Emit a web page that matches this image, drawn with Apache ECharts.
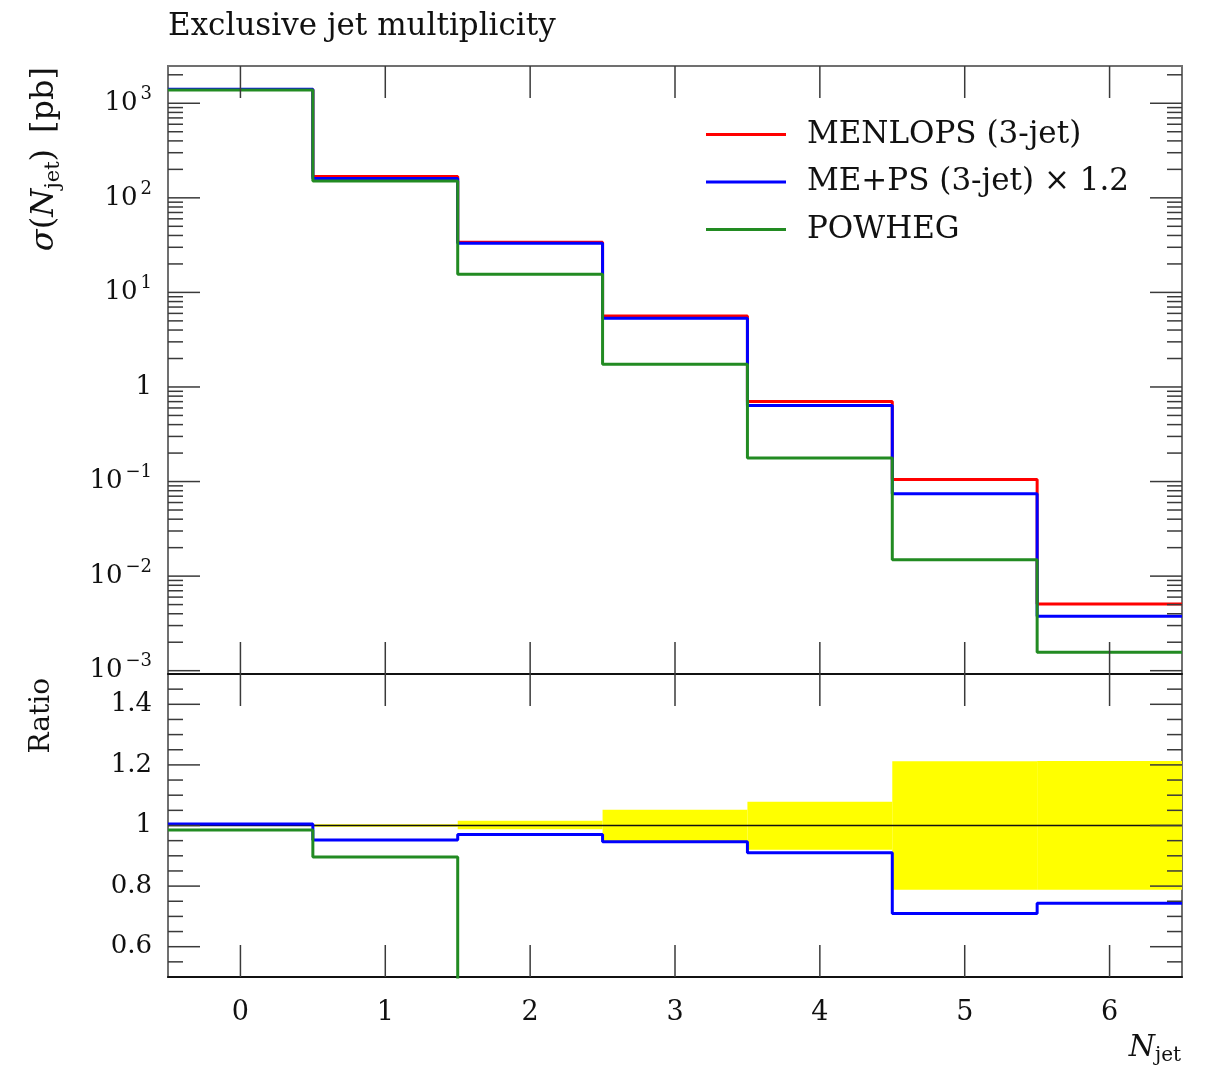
<!DOCTYPE html>
<html>
<head>
<meta charset="utf-8">
<title>Exclusive jet multiplicity</title>
<script src="https://cdn.jsdelivr.net/npm/echarts@6/dist/echarts.min.js"></script>
<style>
html, body {margin: 0; padding: 0; background: #fff;}
#main {width: 1212px; height: 1072px;}
</style>
</head>
<body>
<div id="main"></div>
<script>
// bins of N_jet
var binEdges = [-0.5, 0.5, 1.5, 2.5, 3.5, 4.5, 5.5, 6.5];
var nJet = [0, 1, 2, 3, 4, 5, 6];

// cross sections [pb]
var menlops = [1400, 168, 34.0, 5.63, 0.700, 0.105, 0.00507];
var mepsScaled = [1407, 160, 33.0, 5.33, 0.637, 0.0745, 0.00377];
var powheg = [1379, 150.5, 15.6, 1.74, 0.177, 0.0149, 0.00157];

// MENLOPS uncertainty band (ratio)
var bandHigh = [1.002, 1.004, 1.0155, 1.052, 1.078, 1.212, 1.213];
var bandLow = [0.998, 0.996, 0.988, 0.947, 0.920, 0.788, 0.788];

// ticks
var logMajorExp = [-3, -2, -1, 0, 1, 2, 3];
var ratioMajor = [0.6, 0.8, 1.0, 1.2, 1.4];
var ratioMinor = [0.55, 0.65, 0.7, 0.75, 0.85, 0.9, 0.95, 1.05, 1.1, 1.15, 1.25, 1.3, 1.35, 1.45];

var LOG_MIN = Math.pow(10, -3.035);
var LOG_MAX = Math.pow(10, 3.394);
var FONT = 'DejaVu Serif';

function stepData(values) {
    var pts = [];
    for (var i = 0; i < values.length; i++) {
        pts.push([binEdges[i], values[i]]);
    }
    pts.push([binEdges[values.length], values[values.length - 1]]);
    return pts;
}

function ratioOf(values) {
    return values.map(function (v, i) { return v / menlops[i]; });
}

// tick items: [x, y, kind] kind 0 = x major, 1 = y major, 2 = y minor
function mainTicks() {
    var items = [];
    nJet.forEach(function (n) { items.push([n, 1, 0]); });
    logMajorExp.forEach(function (e) { items.push([0, Math.pow(10, e), 1]); });
    for (var k = -4; k <= 3; k++) {
        for (var m = 2; m <= 9; m++) {
            var v = m * Math.pow(10, k);
            if (v > LOG_MIN && v < LOG_MAX) items.push([0, v, 2]);
        }
    }
    return items;
}

function ratioTicks() {
    var items = [];
    nJet.forEach(function (n) { items.push([n, 1, 0]); });
    ratioMajor.forEach(function (v) { items.push([0, v, 1]); });
    ratioMinor.forEach(function (v) { items.push([0, v, 2]); });
    return items;
}

function renderTick(params, api) {
    var cs = params.coordSys;
    var kind = api.value(2);
    var style = {stroke: '#3a3a3a', lineWidth: 1.5};
    if (kind === 0) {
        var px = api.coord([api.value(0), api.value(1)])[0];
        return {
            type: 'group',
            children: [
                {type: 'line', shape: {x1: px, y1: cs.y, x2: px, y2: cs.y + 32}, style: style},
                {type: 'line', shape: {x1: px, y1: cs.y + cs.height - 32, x2: px, y2: cs.y + cs.height}, style: style}
            ]
        };
    }
    var len = kind === 1 ? 32 : 15;
    var py = api.coord([api.value(0), api.value(1)])[1];
    return {
        type: 'group',
        children: [
            {type: 'line', shape: {x1: cs.x, y1: py, x2: cs.x + len, y2: py}, style: style},
            {type: 'line', shape: {x1: cs.x + cs.width - len, y1: py, x2: cs.x + cs.width, y2: py}, style: style}
        ]
    };
}

function renderBand(params, api) {
    var p0 = api.coord([api.value(0), api.value(3)]);
    var p1 = api.coord([api.value(1), api.value(2)]);
    return {
        type: 'rect',
        shape: {x: p0[0], y: p0[1], width: p1[0] - p0[0], height: p1[1] - p0[1]},
        style: {fill: '#ffff00'}
    };
}

function logLabel(v) {
    var lg = Math.log10(v);
    var e = Math.round(lg);
    if (Math.abs(lg - e) > 1e-6) return '';
    if (e === 0) return '{b|1}';
    return '{b|10}{s|' + (e < 0 ? '\u2212' + (-e) : e) + '}';
}

function stepLine(name, data, color, xi, width, z) {
    return {
        name: name,
        type: 'line',
        xAxisIndex: xi,
        yAxisIndex: xi,
        step: 'end',
        showSymbol: false,
        symbol: 'none',
        data: data,
        z: z,
        itemStyle: {color: color},
        lineStyle: {color: color, width: width}
    };
}

var bandData = nJet.map(function (n, i) {
    return [binEdges[i], binEdges[i + 1], bandLow[i], bandHigh[i]];
});

var chart = echarts.init(document.getElementById('main'), null, {renderer: 'canvas'});

var option = {
    animation: false,
    backgroundColor: '#ffffff',
    title: {
        text: 'Exclusive jet multiplicity',
        left: 168,
        top: 11,
        padding: 0,
        textStyle: {fontFamily: FONT, fontSize: 31, fontWeight: 'normal', color: '#111'}
    },
    legend: {
        data: ['MENLOPS (3-jet)', 'ME+PS (3-jet) \u00d7 1.2', 'POWHEG'],
        orient: 'vertical',
        left: 706,
        top: 119,
        padding: 0,
        icon: 'rect',
        itemWidth: 80,
        itemHeight: 3,
        itemGap: 16.5,
        formatter: function (name) { return '{t|' + name + '}'; },
        textStyle: {
            rich: {
                t: {fontFamily: FONT, fontSize: 31, lineHeight: 36, color: '#111', padding: [0, 0, 0, 16]}
            }
        }
    },
    grid: [
        {left: 168, top: 66, width: 1014, height: 608, show: true, borderColor: '#707070', borderWidth: 2},
        {left: 168, top: 674, width: 1014, height: 303, show: true, borderColor: '#707070', borderWidth: 2}
    ],
    xAxis: [
        {
            type: 'value', gridIndex: 0, min: -0.5, max: 6.5, interval: 0.5,
            axisLine: {show: true, onZero: false, lineStyle: {color: '#111', width: 2}},
            axisTick: {show: false}, axisLabel: {show: false}, splitLine: {show: false}
        },
        {
            type: 'value', gridIndex: 1, min: -0.5, max: 6.5, interval: 0.5,
            axisLine: {show: true, onZero: false, lineStyle: {color: '#111', width: 2}},
            axisTick: {show: false}, splitLine: {show: false},
            axisLabel: {
                interval: 0,
                margin: 22,
                fontFamily: FONT, fontSize: 27, color: '#111',
                formatter: function (v) {
                    return Math.abs(v - Math.round(v)) < 1e-6 ? String(Math.round(v)) : '';
                }
            }
        }
    ],
    yAxis: [
        {
            type: 'log', gridIndex: 0, logBase: 10, min: LOG_MIN, max: LOG_MAX,
            axisLine: {show: false}, axisTick: {show: false}, splitLine: {show: false},
            axisLabel: {
                margin: 16,
                formatter: logLabel,
                rich: {
                    b: {fontFamily: FONT, fontSize: 26, lineHeight: 36, color: '#111'},
                    s: {fontFamily: FONT, fontSize: 18, lineHeight: 18, verticalAlign: 'top', color: '#111', padding: [0, 0, 0, 3]}
                }
            }
        },
        {
            type: 'value', gridIndex: 1, min: 0.5, max: 1.5, interval: 0.1,
            axisLine: {show: false}, axisTick: {show: false}, splitLine: {show: false},
            axisLabel: {
                margin: 16,
                fontFamily: FONT, fontSize: 26, color: '#111',
                formatter: function (v) {
                    var r = Math.round(v * 10);
                    if (r % 2 !== 0) return '';
                    return r === 10 ? '1' : (r / 10).toFixed(1);
                }
            }
        }
    ],
    graphic: [
        {
            type: 'text', x: 45, y: 67, rotation: Math.PI / 2,
            style: {
                text: '{g|\u03c3}{p|(}{n|N}{j|jet}{p|)}{sp| }{p|[pb]}',
                textAlign: 'right', textVerticalAlign: 'middle', fill: '#111',
                rich: {
                    g: {fontFamily: FONT, fontSize: 32, fontStyle: 'italic', lineHeight: 38},
                    p: {fontFamily: FONT, fontSize: 32, lineHeight: 38},
                    sp: {fontFamily: FONT, fontSize: 32, lineHeight: 38, width: 16},
                    n: {fontFamily: FONT, fontSize: 32, fontStyle: 'italic', lineHeight: 38},
                    j: {fontFamily: FONT, fontSize: 21, lineHeight: 21, verticalAlign: 'bottom'}
                }
            }
        },
        {
            type: 'text', x: 42, y: 678, rotation: Math.PI / 2,
            style: {
                text: 'Ratio', textAlign: 'right', textVerticalAlign: 'middle', fill: '#111',
                font: '28px "DejaVu Serif"'
            }
        },
        {
            type: 'text', x: 1181, y: 1048,
            style: {
                text: '{n|N}{j|jet}',
                textAlign: 'right', textVerticalAlign: 'middle', fill: '#111',
                rich: {
                    n: {fontFamily: FONT, fontSize: 30, fontStyle: 'italic', lineHeight: 36},
                    j: {fontFamily: FONT, fontSize: 20, lineHeight: 20, verticalAlign: 'bottom'}
                }
            }
        }
    ],
    series: [
        {
            name: 'band',
            type: 'custom',
            xAxisIndex: 1,
            yAxisIndex: 1,
            renderItem: renderBand,
            encode: {x: [0, 1], y: [2, 3]},
            data: bandData,
            silent: true,
            z: 1
        },
        stepLine('MENLOPS ratio', stepData(ratioOf(menlops)), '#111111', 1, 1.5, 3),
        stepLine('ME+PS ratio', stepData(ratioOf(mepsScaled)), '#0000ff', 1, 3, 4),
        stepLine('POWHEG ratio', stepData(ratioOf(powheg)), '#228b22', 1, 3, 4),
        stepLine('MENLOPS (3-jet)', stepData(menlops), '#ff0000', 0, 3, 3),
        stepLine('ME+PS (3-jet) \u00d7 1.2', stepData(mepsScaled), '#0000ff', 0, 3, 4),
        stepLine('POWHEG', stepData(powheg), '#228b22', 0, 3, 5),
        {
            name: 'mainTicks',
            type: 'custom',
            xAxisIndex: 0,
            yAxisIndex: 0,
            renderItem: renderTick,
            encode: {x: 0, y: 1},
            data: mainTicks(),
            silent: true,
            z: 6
        },
        {
            name: 'ratioTicks',
            type: 'custom',
            xAxisIndex: 1,
            yAxisIndex: 1,
            renderItem: renderTick,
            encode: {x: 0, y: 1},
            data: ratioTicks(),
            silent: true,
            z: 6
        }
    ]
};

chart.setOption(option);
</script>
</body>
</html>
